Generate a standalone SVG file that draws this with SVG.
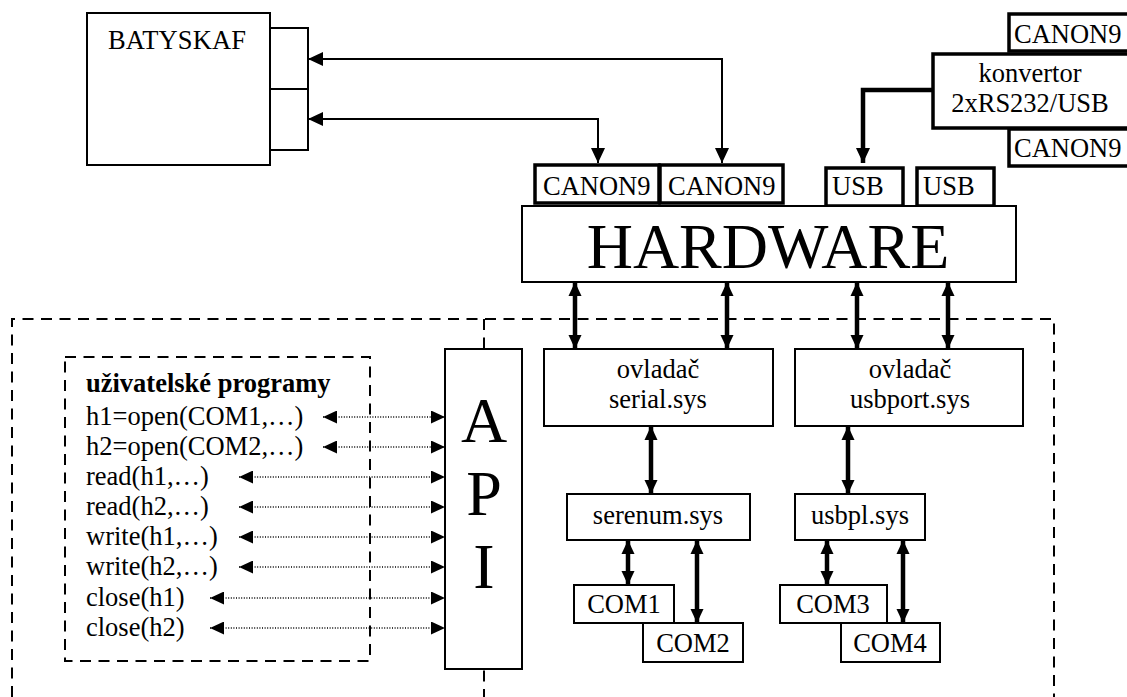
<svg xmlns="http://www.w3.org/2000/svg" width="1127" height="697" viewBox="0 0 1127 697">
<defs>
<style>
text{font-family:"Liberation Serif","Times New Roman",serif;fill:#000}
.t{font-size:26.5px}
.c{text-anchor:middle}
.box{fill:#fff;stroke:#000;stroke-width:2}
.thick{fill:#fff;stroke:#000;stroke-width:3.5}
.dash{fill:none;stroke:#000;stroke-width:2;stroke-dasharray:11 7.5}
.thin{fill:none;stroke:#000;stroke-width:2}
.dbl{fill:none;stroke:#000;stroke-width:4.5}
.dot{fill:none;stroke:#000;stroke-width:1.3;stroke-dasharray:1 1.6}
</style>
<marker id="ah" markerUnits="userSpaceOnUse" markerWidth="16" markerHeight="14" refX="15" refY="7" orient="auto-start-reverse" viewBox="0 0 16 14"><path d="M0,0 L15,7 L0,14 z" fill="#000"/></marker>
<marker id="th" markerUnits="userSpaceOnUse" markerWidth="15" markerHeight="14" refX="14" refY="7" orient="auto-start-reverse" viewBox="0 0 15 14"><path d="M0,0.5 L14,7 L0,13.5 z" fill="#000"/></marker>
<marker id="dh" markerUnits="userSpaceOnUse" markerWidth="15" markerHeight="13" refX="14" refY="6.5" orient="auto-start-reverse" viewBox="0 0 15 13"><path d="M0,0 L14,6.5 L0,13 z" fill="#000"/></marker>
</defs>
<rect width="1127" height="697" fill="#fff"/>

<g id="boundaries">
<path class="dash" d="M12,697 V319 H1054 V697"/>
<path class="dash" d="M484,319 V697"/>
<rect class="dash" x="65" y="357" width="305" height="304"/>
</g>

<g id="batyskaf">
<rect class="box" x="87" y="13" width="183" height="152" stroke-width="1.5"/>
<rect class="box" x="270" y="28" width="38" height="61" stroke-width="1.5"/>
<rect class="box" x="270" y="89" width="38" height="61" stroke-width="1.5"/>
<text class="t" x="108" y="49" textLength="138">BATYSKAF</text>
</g>

<g id="canon9-a">
<rect class="thick" x="535" y="165" width="124" height="38"/>
<text class="t" x="543" y="195">CANON9</text>
</g>
<g id="canon9-b">
<rect class="thick" x="660" y="165" width="123" height="38"/>
<text class="t" x="668" y="195">CANON9</text>
</g>
<g id="usb-a">
<rect class="thick" x="826" y="168" width="77" height="38"/>
<text class="t" x="832" y="195">USB</text>
</g>
<g id="usb-b">
<rect class="thick" x="917" y="168" width="77" height="38"/>
<text class="t" x="923" y="195">USB</text>
</g>
<g id="hardware">
<rect class="box" x="522" y="206" width="494" height="76"/>
<text x="768" y="268" font-size="64" class="c">HARDWARE</text>
</g>

<g id="canon9-top">
<rect class="thick" x="1009" y="14" width="130" height="37"/>
<text class="t" x="1014" y="43">CANON9</text>
</g>
<g id="canon9-bottom">
<rect class="thick" x="1009" y="129" width="130" height="37"/>
<text class="t" x="1014" y="157">CANON9</text>
</g>
<g id="konvertor">
<rect class="thick" x="933" y="54" width="210" height="74"/>
<text class="t c" x="1030" y="82">konvertor</text>
<text class="t c" x="1030" y="112">2xRS232/USB</text>
</g>

<g id="api">
<rect class="box" x="445" y="349" width="77" height="320"/>
<text x="484" y="442" font-size="64" class="c">A</text>
<text x="484" y="515" font-size="64" class="c">P</text>
<text x="484" y="588" font-size="64" class="c">I</text>
</g>

<g id="ovladac-serial">
<rect class="box" x="544" y="349" width="229" height="77"/>
<text class="t c" x="658" y="378">ovladač</text>
<text class="t c" x="658" y="408">serial.sys</text>
</g>
<g id="ovladac-usbport">
<rect class="box" x="795" y="349" width="228" height="77"/>
<text class="t c" x="910" y="378">ovladač</text>
<text class="t c" x="910" y="408">usbport.sys</text>
</g>
<g id="serenum">
<rect class="box" x="567" y="494" width="183" height="46"/>
<text class="t c" x="658" y="524">serenum.sys</text>
</g>
<g id="usbpl">
<rect class="box" x="795" y="494" width="130" height="46"/>
<text class="t c" x="860" y="524">usbpl.sys</text>
</g>
<g id="com1">
<rect class="box" x="574" y="585" width="100" height="38"/>
<text class="t c" x="624" y="613">COM1</text>
</g>
<g id="com2">
<rect class="box" x="643" y="623" width="100" height="39"/>
<text class="t c" x="693" y="652">COM2</text>
</g>
<g id="com3">
<rect class="box" x="780" y="585" width="107" height="38"/>
<text class="t c" x="833" y="613">COM3</text>
</g>
<g id="com4">
<rect class="box" x="841" y="623" width="99" height="39"/>
<text class="t c" x="890" y="652">COM4</text>
</g>

<g id="programs">
<text x="86" y="392" font-size="26.5" font-weight="bold">uživatelské programy</text>
<text class="t" x="86" y="425">h1=open(COM1,…)</text>
<text class="t" x="86" y="455">h2=open(COM2,…)</text>
<text class="t" x="86" y="485">read(h1,…)</text>
<text class="t" x="86" y="515">read(h2,…)</text>
<text class="t" x="86" y="545">write(h1,…)</text>
<text class="t" x="86" y="575">write(h2,…)</text>
<text class="t" x="86" y="606">close(h1)</text>
<text class="t" x="86" y="636">close(h2)</text>
</g>

<g id="connectors">
<path class="thin" d="M722,163 V59 H308" marker-start="url(#ah)" marker-end="url(#ah)"/>
<path class="thin" d="M598,163 V119 H308" marker-start="url(#ah)" marker-end="url(#ah)"/>
<path fill="none" stroke="#000" stroke-width="4.5" d="M933,90 H863 V163" marker-end="url(#ah)"/>
<line class="dbl" x1="575" y1="282" x2="575" y2="349" marker-start="url(#th)" marker-end="url(#th)"/>
<line class="dbl" x1="727" y1="282" x2="727" y2="349" marker-start="url(#th)" marker-end="url(#th)"/>
<line class="dbl" x1="857" y1="282" x2="857" y2="349" marker-start="url(#th)" marker-end="url(#th)"/>
<line class="dbl" x1="948" y1="282" x2="948" y2="349" marker-start="url(#th)" marker-end="url(#th)"/>
<line class="dbl" x1="651" y1="426" x2="651" y2="494" marker-start="url(#th)" marker-end="url(#th)"/>
<line class="dbl" x1="848" y1="426" x2="848" y2="494" marker-start="url(#th)" marker-end="url(#th)"/>
<line class="dbl" x1="628" y1="540" x2="628" y2="585" marker-start="url(#th)" marker-end="url(#th)"/>
<line class="dbl" x1="697" y1="540" x2="697" y2="623" marker-start="url(#th)" marker-end="url(#th)"/>
<line class="dbl" x1="827" y1="540" x2="827" y2="585" marker-start="url(#th)" marker-end="url(#th)"/>
<line class="dbl" x1="903" y1="540" x2="903" y2="623" marker-start="url(#th)" marker-end="url(#th)"/>
<line class="dot" x1="323" y1="417" x2="445" y2="417" marker-start="url(#dh)" marker-end="url(#dh)"/>
<line class="dot" x1="323" y1="447" x2="445" y2="447" marker-start="url(#dh)" marker-end="url(#dh)"/>
<line class="dot" x1="239" y1="477" x2="445" y2="477" marker-start="url(#dh)" marker-end="url(#dh)"/>
<line class="dot" x1="239" y1="507" x2="445" y2="507" marker-start="url(#dh)" marker-end="url(#dh)"/>
<line class="dot" x1="239" y1="537" x2="445" y2="537" marker-start="url(#dh)" marker-end="url(#dh)"/>
<line class="dot" x1="239" y1="567" x2="445" y2="567" marker-start="url(#dh)" marker-end="url(#dh)"/>
<line class="dot" x1="210" y1="598" x2="445" y2="598" marker-start="url(#dh)" marker-end="url(#dh)"/>
<line class="dot" x1="210" y1="628" x2="445" y2="628" marker-start="url(#dh)" marker-end="url(#dh)"/>
</g>
</svg>
